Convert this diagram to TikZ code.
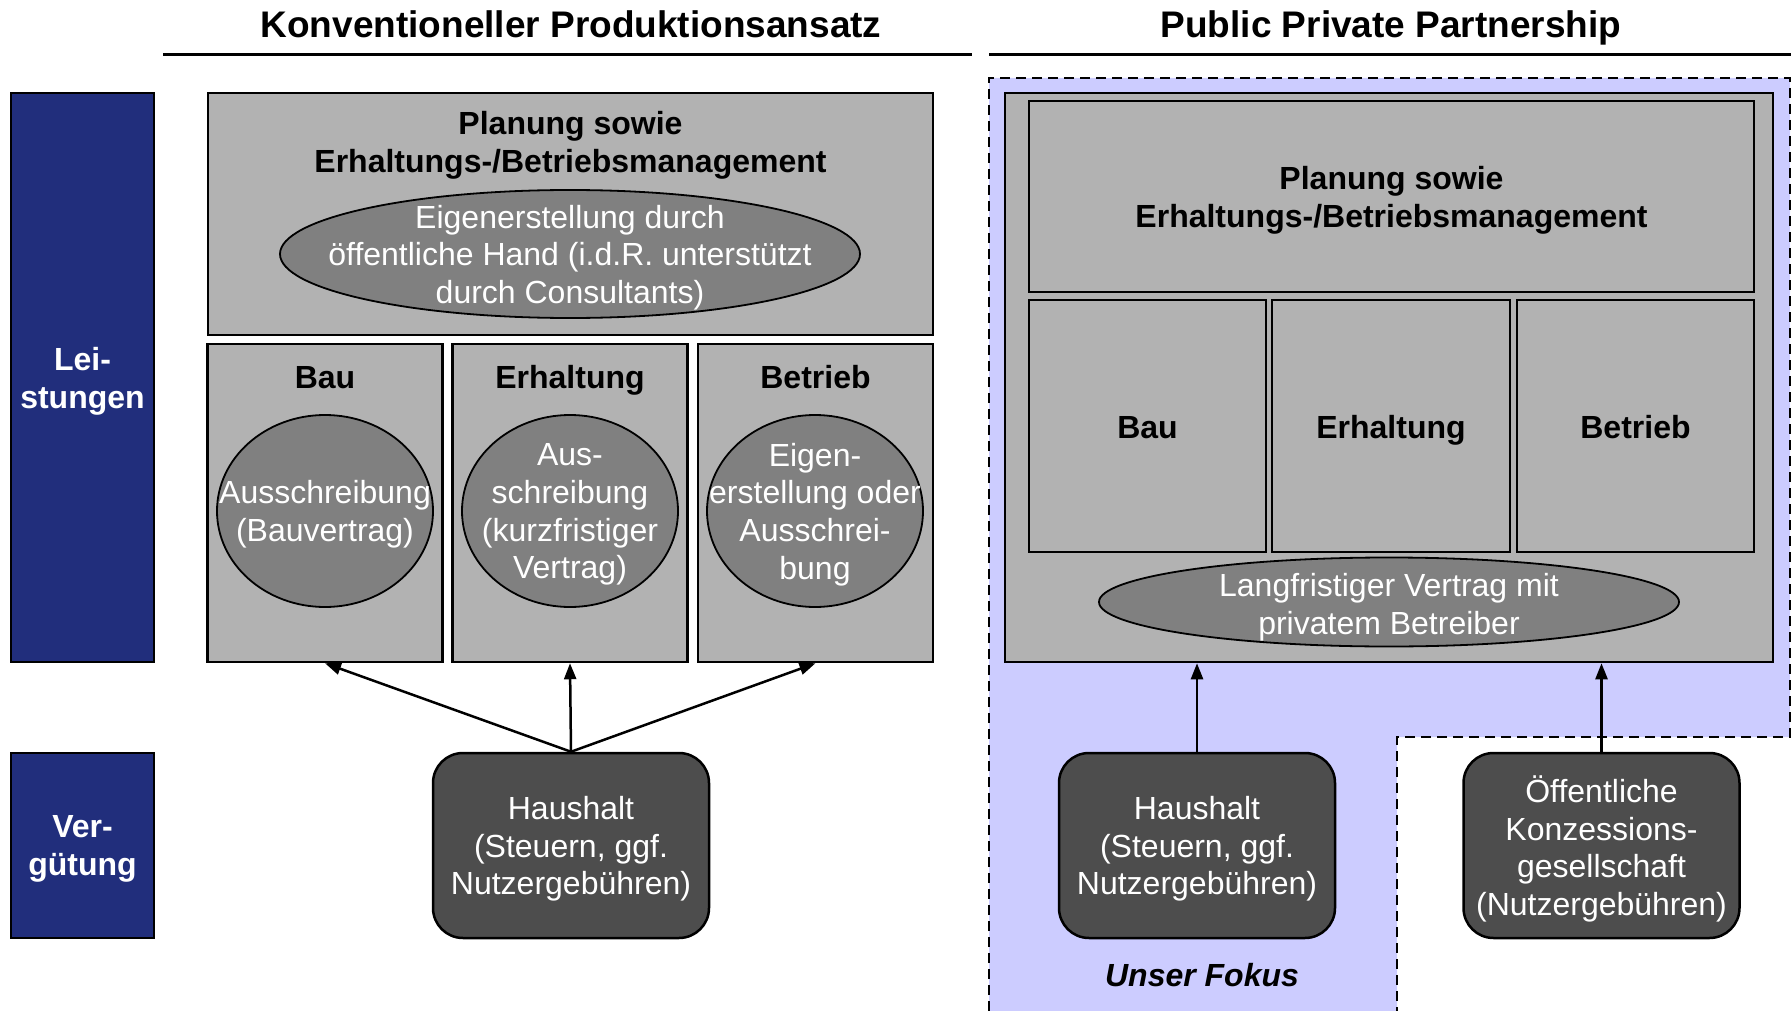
\documentclass[tikz,border=0pt]{standalone}
\usepackage{fontspec}
\setmainfont{Liberation Sans}
\usetikzlibrary{arrows.meta, shapes.geometric}

\definecolor{navy}{RGB}{33,46,124}
\definecolor{boxgrey}{RGB}{178,178,178}
\definecolor{ovalgrey}{RGB}{128,128,128}
\definecolor{darkgrey}{RGB}{77,77,77}
\definecolor{lavender}{RGB}{204,204,255}

\tikzset{
  txt/.style = {inner sep=0pt, align=center, yshift=-3.5pt, font=\fontsize{32}{37.7}\selectfont},
  btxt/.style = {txt, font=\fontsize{32}{37.7}\selectfont\bfseries},
  wtxt/.style = {txt, text=white},
  lbl/.style = {inner sep=0pt, anchor=base, yshift=-12pt, font=\fontsize{32}{37.7}\selectfont\bfseries},
  hdr/.style = {inner sep=0pt, anchor=base, yshift=-13pt, font=\fontsize{37}{44}\selectfont\bfseries},
  side/.style = {draw, line width=2.5pt, fill=navy, inner sep=0pt},
  gbox/.style = {draw, line width=2.5pt, fill=boxgrey, inner sep=0pt},
  oval/.style = {ellipse, draw, line width=1.8pt, fill=ovalgrey, inner sep=0pt},
  dbox/.style = {draw, line width=2.5pt, fill=darkgrey, rounded corners=30pt, inner sep=0pt,
    minimum width=276pt, minimum height=185pt},
  arr/.style = {line width=2.5pt, -{Triangle[length=16pt, width=12pt]}}
}

\begin{document}
\begin{tikzpicture}[x=1pt, y=-1pt]
\useasboundingbox (0,0) rectangle (1791,1011);

% focus area behind the PPP side
\fill[lavender] (989,78) -- (1790,78) -- (1790,737) -- (1397,737) -- (1397,1011) -- (989,1011) -- cycle;
\draw[line width=2.5pt, dash pattern=on 10pt off 6pt] (989,1011) -- (989,78) -- (1790,78) -- (1790,737) -- (1397,737) -- (1397,1011);

% headings
\node[hdr] (t1) at (571,25) {Konventioneller Produktionsansatz};
\node[hdr] (t2) at (1391,25) {Public Private Partnership};
\draw[line width=3pt] (163,55) -- (972,55);
\draw[line width=3pt] (989,55) -- (1791,55);

% row labels
\node[side, minimum width=143pt, minimum height=569pt] (l1) at (82.5,377.5) {};
\node[side, minimum width=143pt, minimum height=185pt] (l2) at (82.5,845.5) {};
\node[btxt, text=white] (l1t) at (l1) {Lei-\\stungen};
\node[btxt, text=white] (l2t) at (l2) {Ver-\\gütung};

% conventional approach
\node[gbox, minimum width=725pt, minimum height=242pt] (p1) at (570.5,214) {};
\node[btxt] (p1t) at (570.5,142) {Planung sowie\\Erhaltungs-/Betriebsmanagement};
\node[oval, minimum width=580pt, minimum height=128pt] (e0) at (570,254) {};
\node[wtxt] (e0t) at (e0) {Eigenerstellung durch\\öffentliche Hand (i.d.R. unterstützt\\durch Consultants)};

\node[gbox, minimum width=235pt, minimum height=318pt] (b1) at (325,503) {};
\node[gbox, minimum width=235pt, minimum height=318pt] (b2) at (570,503) {};
\node[gbox, minimum width=235pt, minimum height=318pt] (b3) at (815.5,503) {};
\node[lbl] (b1t) at (325,376) {Bau};
\node[lbl] (b2t) at (570,376) {Erhaltung};
\node[lbl] (b3t) at (815.5,376) {Betrieb};

\node[oval, minimum width=216pt, minimum height=192pt] (c1) at (325,511) {};
\node[oval, minimum width=216pt, minimum height=192pt] (c2) at (570,511) {};
\node[oval, minimum width=216pt, minimum height=192pt] (c3) at (815,511) {};
\node[wtxt] (c1t) at (c1) {Ausschreibung\\(Bauvertrag)};
\node[wtxt] (c2t) at (c2) {Aus-\\schreibung\\(kurzfristiger\\Vertrag)};
\node[wtxt] (c3t) at (c3) {Eigen-\\erstellung oder\\Ausschrei-\\bung};

\node[dbox] (h1) at (571,845.5) {};
\node[wtxt] (h1t) at (h1) {Haushalt\\(Steuern, ggf.\\Nutzergebühren)};

\draw[arr] (h1.north) -- (b1.south);
\draw[arr] (h1.north) -- (b2.south);
\draw[arr] (h1.north) -- (b3.south);

% PPP
\node[gbox, minimum width=768pt, minimum height=569pt] (q0) at (1389,377.5) {};
\node[gbox, minimum width=725pt, minimum height=191pt] (q1) at (1391.5,196.5) {};
\node[btxt] (q1t) at (q1) {Planung sowie\\Erhaltungs-/Betriebsmanagement};
\node[gbox, minimum width=237pt, minimum height=252pt] (q2) at (1147.5,426) {};
\node[gbox, minimum width=238pt, minimum height=252pt] (q3) at (1391,426) {};
\node[gbox, minimum width=237pt, minimum height=252pt] (q4) at (1635.5,426) {};
\node[lbl] (q2t) at (q2) {Bau};
\node[lbl] (q3t) at (q3) {Erhaltung};
\node[lbl] (q4t) at (q4) {Betrieb};
\node[oval, minimum width=580pt, minimum height=89pt] (q5) at (1389,602) {};
\node[wtxt] (q5t) at (1389,604) {Langfristiger Vertrag mit\\privatem Betreiber};

\node[dbox] (h2) at (1197,845.5) {};
\node[wtxt] (h2t) at (h2) {Haushalt\\(Steuern, ggf.\\Nutzergebühren)};
\node[dbox] (h3) at (1601.5,845.5) {};
\node[wtxt] (h3t) at (h3) {Öffentliche\\Konzessions-\\gesellschaft\\(Nutzergebühren)};

\draw[arr] (h2.north) -- (h2.north |- q0.south);
\draw[arr] (h3.north) -- (h3.north |- q0.south);

\node[lbl, font=\fontsize{32}{37.7}\selectfont\bfseries\itshape] (fk) at (1202,974) {Unser Fokus};
\end{tikzpicture}
\end{document}
